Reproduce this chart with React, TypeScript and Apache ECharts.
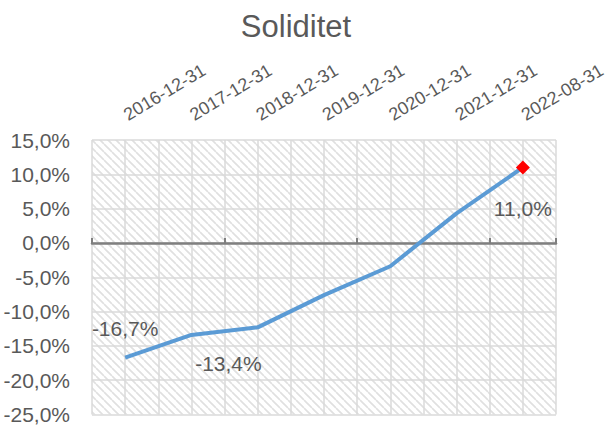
import React, { useEffect, useRef } from "react";
import * as echarts from "echarts";

const title = "Soliditet";
const categories = [
  "2016-12-31",
  "2017-12-31",
  "2018-12-31",
  "2019-12-31",
  "2020-12-31",
  "2021-12-31",
  "2022-08-31",
];
const values = [-16.7, -13.4, -12.3, -7.6, -3.4, 4.3, 11.0];
const labelledIndex = [0, 1, 6];
const labelOffsets: Record<number, [number, number]> = {
  0: [0, -29],
  1: [37, 29],
  6: [0, 41],
};
const yMin = -25;
const yMax = 15;
const yStep = 5;

const FONT = "'Liberation Sans', Arial, sans-serif";
const TEXT = "#595959";

const fmt = (v: number) => v.toFixed(1).replace(".", ",") + "%";

function makeHatch(): HTMLCanvasElement {
  const c = document.createElement("canvas");
  c.width = 8;
  c.height = 8;
  const ctx = c.getContext("2d")!;
  ctx.fillStyle = "#ffffff";
  ctx.fillRect(0, 0, 8, 8);
  ctx.strokeStyle = "#e0e0e0";
  ctx.lineWidth = 1.7;
  for (const k of [-8, 0, 8]) {
    ctx.beginPath();
    ctx.moveTo(k, 0);
    ctx.lineTo(k + 8, 8);
    ctx.stroke();
  }
  return c;
}

export default function App() {
  const ref = useRef<HTMLDivElement>(null);
  useEffect(() => {
    if (!ref.current) return;
    const chart = echarts.init(ref.current, null, { renderer: "svg" });
    const hatch = makeHatch();
    const n = categories.length;
    const data = values.map((v, i) => {
      const item: any = { value: v };
      if (labelledIndex.includes(i)) {
        item.label = {
          show: true,
          position: "inside",
          offset: labelOffsets[i],
          formatter: () => fmt(v),
        };
      }
      if (i === n - 1) {
        item.symbol = "diamond";
        item.symbolSize = 14;
        item.itemStyle = { color: "#ff0000" };
      }
      return item;
    });
    chart.setOption({
      animation: false,
      title: {
        text: title,
        left: 291,
        top: 6,
        textAlign: "center",
        textStyle: { fontFamily: FONT, fontSize: 31, fontWeight: "normal", color: TEXT },
      },
      grid: {
        left: 92,
        right: 55,
        top: 140,
        bottom: 10,
        show: true,
        borderWidth: 0,
        backgroundColor: { image: hatch, repeat: "repeat", imageWidth: 8, imageHeight: 8 },
      },
      xAxis: [
        {
          type: "category",
          data: categories,
          position: "top",
          boundaryGap: true,
          axisLine: { show: false, onZero: false },
          axisTick: { show: false },
          splitLine: { show: false },
          axisLabel: {
            rotate: -31,
            margin: 24,
            interval: 0,
            color: TEXT,
            fontFamily: FONT,
            fontSize: 18,
          },
        },
        {
          type: "category",
          data: categories,
          position: "bottom",
          boundaryGap: true,
          axisLine: { show: true, onZero: true, lineStyle: { color: "#7f7f7f", width: 2.5 } },
          axisTick: { show: true, inside: true, length: 5, lineStyle: { color: "#7f7f7f", width: 2 } },
          axisLabel: { show: false },
          splitLine: { show: false },
        },
        {
          type: "value",
          min: 0,
          max: n * 2,
          interval: 1,
          position: "bottom",
          axisLine: { show: false, onZero: false },
          axisTick: { show: false },
          axisLabel: { show: false },
          splitLine: { show: true, lineStyle: { color: "#dadada", width: 1.5 } },
        },
      ],
      yAxis: {
        type: "value",
        min: yMin,
        max: yMax,
        interval: yStep,
        axisLine: { show: false },
        axisTick: { show: false },
        axisLabel: {
          margin: 22,
          color: TEXT,
          fontFamily: FONT,
          fontSize: 21,
          formatter: (v: number) => fmt(v),
        },
        splitLine: { show: true, lineStyle: { color: "#dadada", width: 1.5 } },
      },
      series: [
        {
          type: "line",
          xAxisIndex: 1,
          data,
          showSymbol: true,
          symbol: "circle",
          symbolSize: 0,
          lineStyle: { color: "#5b9bd5", width: 4 },
          itemStyle: { color: "#5b9bd5" },
          label: { show: false, color: TEXT, fontFamily: FONT, fontSize: 21 },
          z: 5,
        },
      ],
    });
    return () => chart.dispose();
  }, []);
  return (
    <div
      ref={ref}
      style={{
        position: "fixed",
        left: 0,
        top: 0,
        width: 611,
        height: 425,
        overflow: "hidden",
        background: "#fff",
      }}
    />
  );
}
